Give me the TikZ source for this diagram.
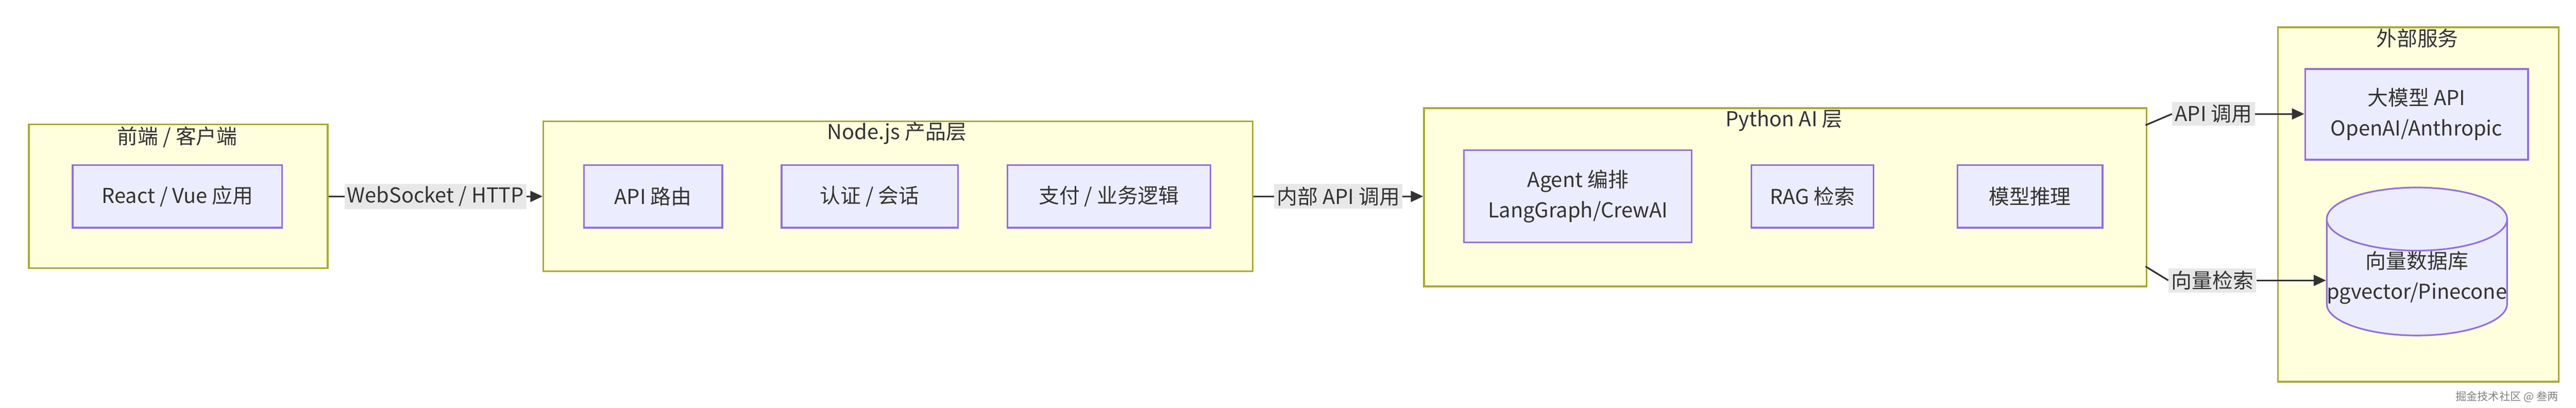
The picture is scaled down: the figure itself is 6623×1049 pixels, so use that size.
\documentclass[tikz,border=0pt]{standalone}
\usepackage{fontspec}
\setmainfont{Noto Sans CJK SC}
\usetikzlibrary{shapes.geometric,arrows.meta}
\definecolor{grpfill}{HTML}{FFFFDE}
\definecolor{grpline}{HTML}{AAAA33}
\definecolor{nodefill}{HTML}{ECECFF}
\definecolor{nodeline}{HTML}{9370DB}
\definecolor{txt}{HTML}{333333}
\definecolor{lblbg}{HTML}{E8E8E8}
\tikzset{
 grp/.style={draw=grpline,fill=grpfill,line width=1.2pt,anchor=north west,inner sep=0pt},
 box/.style={draw=nodeline,fill=nodefill,line width=1.2pt,text=txt,align=center,inner sep=0pt,font=\fontsize{15}{22}\selectfont},
 title/.style={text=txt,font=\fontsize{15}{18}\selectfont},
 lbl/.style={fill=lblbg,text=txt,inner sep=2pt,font=\fontsize{15}{18}\selectfont},
 link/.style={draw=txt,line width=1.2pt,-{Triangle[length=9pt,width=8pt]}}
}
\begin{document}
\begin{tikzpicture}[x=0.01cm,y=-0.01cm]
\useasboundingbox (0,0) rectangle (6623,1049);
%groups
\node[grp,minimum width=7.68cm,minimum height=3.69cm] (front) at (72,318) {};
\node[title] at (456,352) {前端 / 客户端};
\node[grp,minimum width=18.23cm,minimum height=3.85cm] (nodejs) at (1395,310) {};
\node[title] at (2306,343) {Node.js 产品层};
\node[grp,minimum width=18.57cm,minimum height=4.58cm] (python) at (3659,276) {};
\node[title] at (4587,310) {Python AI 层};
\node[grp,minimum width=7.21cm,minimum height=9.11cm] (ext) at (5855,68) {};
\node[title] at (6215,98) {外部服务};
%nodes
\node[box,minimum width=5.38cm,minimum height=1.61cm] (react) at (456,505) {React / Vue 应用};
\node[box,minimum width=3.56cm,minimum height=1.61cm] (route) at (1679,505) {API 路由};
\node[box,minimum width=4.53cm,minimum height=1.61cm] (auth) at (2236,505) {认证 / 会话};
\node[box,minimum width=5.21cm,minimum height=1.61cm] (pay) at (2851,505) {支付 / 业务逻辑};
\node[box,minimum width=5.85cm,minimum height=2.37cm] (agent) at (4057,505) {Agent 编排\\LangGraph/CrewAI};
\node[box,minimum width=3.14cm,minimum height=1.61cm] (rag) at (4660,505) {RAG 检索};
\node[box,minimum width=3.73cm,minimum height=1.61cm] (infer) at (5219,505) {模型推理};
\node[box,minimum width=5.73cm,minimum height=2.33cm] (llm) at (6213,294) {大模型 API\\OpenAI/Anthropic};
\node[box,cylinder,shape border rotate=90,aspect=0.35,minimum width=4.54cm,minimum height=3.09cm] (vdb) at (6214,714) {向量数据库\\pgvector/Pinecone};
%links
\draw[link] (front.east |- react) -- node[lbl] {WebSocket / HTTP} (nodejs.west |- react);
\draw[link] (nodejs.east |- react) -- node[lbl] {内部 API 调用} (python.west |- react);
\node[lbl] (l1) at (5691,293) {API 调用};
\coordinate (p1) at (5516,322);
\draw[line width=1.2pt,draw=txt] (p1) -- (l1.west);
\draw[link] (l1.east) -- (llm.west |- l1);
\node[lbl] (l2) at (5688,721) {向量检索};
\coordinate (p2) at (5516,685);
\draw[line width=1.2pt,draw=txt] (p2) -- (l2.west);
\draw[link] (l2.east) -- (vdb.west |- l2);
\node[text=gray,font=\fontsize{8}{10}\selectfont,anchor=east] (mark) at (6590,1020) {掘金技术社区 @ 叁两};
\end{tikzpicture}
\end{document}
